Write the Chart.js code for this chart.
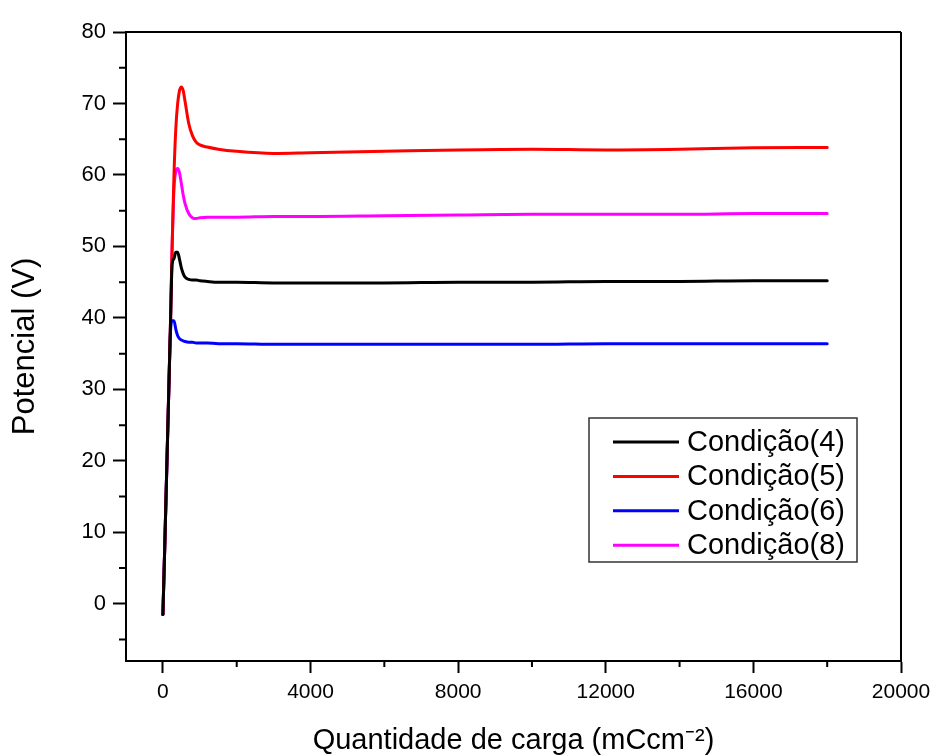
<!DOCTYPE html>
<html>
<head>
<meta charset="utf-8">
<script src="https://cdn.jsdelivr.net/npm/chart.js@4.4.1/dist/chart.umd.min.js"></script>
<style>
  html, body { margin: 0; padding: 0; background: #ffffff; }
  #wrap { width: 934px; height: 756px; position: relative; }
</style>
</head>
<body>
<div id="wrap"><canvas id="c" width="934" height="756"></canvas></div>
<script>
// ---- data ----
const charge = [0, 50, 100, 150, 200, 250, 300, 350, 400, 450, 500, 550, 600, 700, 800, 900, 1000, 1200, 1500, 2000, 3000, 4000, 6000, 8000, 10000, 12000, 14000, 16000, 18000];
const cond4 = [-1.5, 8, 18, 28, 38, 47.5, 48.3, 49.2, 49.2, 48.2, 47.0, 46.2, 45.7, 45.4, 45.3, 45.3, 45.2, 45.1, 45.0, 45.0, 44.9, 44.9, 44.9, 45.0, 45.0, 45.1, 45.1, 45.2, 45.2];
const cond5 = [-1.5, 8, 18, 28, 38, 50, 60, 66.5, 70.0, 71.8, 72.3, 71.8, 70.3, 67.2, 65.5, 64.6, 64.2, 63.9, 63.6, 63.3, 63.0, 63.1, 63.3, 63.5, 63.6, 63.5, 63.6, 63.8, 63.85];
const cond6 = [-1.5, 8, 18, 28, 37.5, 39.6, 39.6, 38.4, 37.5, 37.1, 36.9, 36.8, 36.7, 36.6, 36.6, 36.5, 36.5, 36.5, 36.4, 36.4, 36.3, 36.3, 36.3, 36.3, 36.3, 36.4, 36.4, 36.4, 36.4];
const cond8 = [-1.5, 8, 18, 28, 38, 50, 58.0, 60.5, 60.9, 60.3, 58.8, 57.2, 56.0, 54.6, 54.0, 53.9, 54.0, 54.1, 54.1, 54.1, 54.2, 54.2, 54.3, 54.4, 54.5, 54.5, 54.5, 54.6, 54.6];
const seriesLabels = ['Condição(4)', 'Condição(5)', 'Condição(6)', 'Condição(8)'];
const seriesColors = ['#000000', '#ff0000', '#0000ff', '#ff00ff'];
const xTickValues = [0, 4000, 8000, 12000, 16000, 20000];
const yTickValues = [0, 10, 20, 30, 40, 50, 60, 70, 80];
const xTitle = 'Quantidade de carga (mCcm⁻²)';
const yTitle = 'Potencial (V)';

const seriesValues = [cond4, cond5, cond6, cond8];
const FONT = '"Liberation Sans", Arial, Helvetica, sans-serif';

const datasets = seriesValues.map((vals, i) => ({
  label: seriesLabels[i],
  data: charge.map((x, j) => ({ x: x, y: vals[j] })),
  borderColor: seriesColors[i],
  backgroundColor: seriesColors[i],
  borderWidth: 3,
  pointRadius: 0,
  fill: false,
  cubicInterpolationMode: 'monotone',
  borderCapStyle: 'round',
  borderJoinStyle: 'round'
}));

// minor ticks + frame (top/right) drawn through the scales
const framePlugin = {
  id: 'frameAndMinor',
  afterDraw(chart) {
    const ctx = chart.ctx;
    const a = chart.chartArea;
    const xs = chart.scales.x, ys = chart.scales.y;
    ctx.save();
    ctx.strokeStyle = '#000';
    ctx.lineWidth = 2;
    ctx.beginPath();
    ctx.moveTo(a.left, a.top); ctx.lineTo(a.right, a.top);
    ctx.moveTo(a.right, a.top); ctx.lineTo(a.right, a.bottom);
    ctx.stroke();
    ctx.beginPath();
    for (let i = 0; i < xTickValues.length - 1; i++) {
      const v = (xTickValues[i] + xTickValues[i + 1]) / 2;
      const p = xs.getPixelForValue(v);
      ctx.moveTo(p, a.bottom); ctx.lineTo(p, a.bottom + 6);
    }
    const step = yTickValues[1] - yTickValues[0];
    const minors = [yTickValues[0] - step / 2];
    for (let i = 0; i < yTickValues.length - 1; i++) minors.push((yTickValues[i] + yTickValues[i + 1]) / 2);
    minors.forEach(v => {
      if (v < ys.min || v > ys.max) return;
      const p = ys.getPixelForValue(v);
      ctx.moveTo(a.left, p); ctx.lineTo(a.left - 7, p);
    });
    ctx.stroke();
    ctx.restore();
  }
};

// legend box inside plot area
const legendPlugin = {
  id: 'boxLegend',
  afterDraw(chart) {
    const ctx = chart.ctx;
    const bx = 589, by = 418, bw = 268, bh = 144;
    ctx.save();
    ctx.fillStyle = '#ffffff';
    ctx.fillRect(bx, by, bw, bh);
    ctx.strokeStyle = '#333';
    ctx.lineWidth = 1.5;
    ctx.strokeRect(bx, by, bw, bh);
    ctx.font = '29px ' + FONT;
    ctx.textBaseline = 'middle';
    ctx.textAlign = 'left';
    chart.data.datasets.forEach((ds, i) => {
      const y = by + 24 + i * 34.4;
      ctx.strokeStyle = ds.borderColor;
      ctx.lineWidth = 3;
      ctx.beginPath();
      ctx.moveTo(613, y); ctx.lineTo(679, y);
      ctx.stroke();
      ctx.fillStyle = '#000';
      ctx.fillText(ds.label, 687, y + 1);
    });
    ctx.restore();
  }
};

new Chart(document.getElementById('c'), {
  type: 'line',
  data: { datasets: datasets },
  options: {
    responsive: false,
    animation: false,
    events: [],
    layout: { padding: { left: 0, top: 32, right: 33, bottom: 0 } },
    plugins: { legend: { display: false }, tooltip: { enabled: false } },
    scales: {
      x: {
        type: 'linear',
        min: -1000, max: 20000,
        afterFit(s) { s.height = 95; s.paddingRight = 0; },
        afterBuildTicks(s) { s.ticks = xTickValues.map(v => ({ value: v })); },
        ticks: { color: '#000', padding: 7, maxRotation: 0, autoSkip: false,
                 font: { family: FONT, size: 21 }, callback: v => String(v) },
        grid: { display: true, drawOnChartArea: false, drawTicks: true, tickLength: 12, tickWidth: 2, tickColor: '#000' },
        border: { display: true, color: '#000', width: 2 },
        title: { display: true, text: xTitle, color: '#000', font: { family: FONT, size: 29, lineHeight: 1 }, padding: { top: 0, bottom: 1 } }
      },
      y: {
        type: 'linear',
        min: -8, max: 80,
        afterFit(s) { s.width = 126; },
        afterBuildTicks(s) { s.ticks = yTickValues.map(v => ({ value: v })); },
        ticks: { color: '#000', padding: 7, autoSkip: false,
                 font: { family: FONT, size: 22 }, callback: v => String(v) },
        grid: { display: true, drawOnChartArea: false, drawTicks: true, tickLength: 13, tickWidth: 2, tickColor: '#000' },
        border: { display: true, color: '#000', width: 2 },
        title: { display: true, text: yTitle, color: '#000', font: { family: FONT, size: 31, lineHeight: 1 }, padding: { top: 10, bottom: 0 } }
      }
    }
  },
  plugins: [framePlugin, legendPlugin]
});
</script>
</body>
</html>
